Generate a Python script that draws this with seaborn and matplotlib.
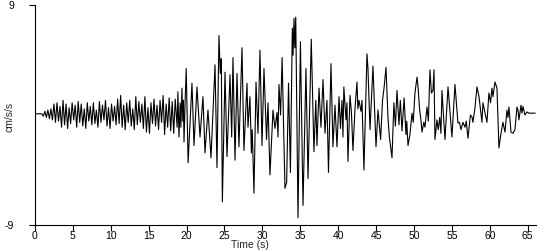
import matplotlib
matplotlib.use("Agg")
import matplotlib.pyplot as plt
import seaborn as sns
import pandas as pd

# Time (s) of each turning point of the trace
time_s = [
    0.0, 0.9, 1.1, 1.3, 1.5, 1.7, 1.9, 2.1, 2.3, 2.5, 2.7, 2.9, 3.1, 3.3, 3.5, 3.7, 3.9,
    4.1, 4.3, 4.5, 4.7, 4.9, 5.1, 5.3, 5.5, 5.7, 5.9, 6.1, 6.3, 6.5, 6.7, 6.9, 7.1, 7.3,
    7.5, 7.7, 7.9, 8.1, 8.3, 8.5, 8.7, 8.9, 9.1, 9.3, 9.5, 9.7, 9.9, 10.1, 10.3, 10.5,
    10.7, 10.9, 11.1, 11.3, 11.5, 11.7, 11.9, 12.1, 12.3, 12.5, 12.7, 12.9, 13.1, 13.3,
    13.5, 13.7, 13.9, 14.1, 14.3, 14.5, 14.7, 14.9, 15.1, 15.3, 15.5, 15.7, 15.9, 16.1,
    16.3, 16.5, 16.7, 16.9, 17.1, 17.3, 17.5, 17.7, 17.9, 18.1, 18.3, 18.5, 18.75, 18.85,
    19.0, 19.15, 19.25, 19.39, 19.5, 19.58, 19.66, 19.8, 19.95, 20.2, 20.71, 20.98,
    21.37, 21.77, 22.16, 22.43, 22.82, 23.22, 23.75, 24.01, 24.27, 24.45, 24.58, 24.72,
    25.07, 25.33, 25.73, 25.95, 26.12, 26.39, 26.65, 26.91, 27.31, 27.57, 27.97, 28.10,
    28.36, 28.55, 28.66, 28.89, 29.16, 29.42, 29.68, 29.95, 30.21, 30.55, 30.74, 31.00,
    31.40, 31.66, 31.93, 32.06, 32.19, 32.40, 32.60, 32.98, 33.20, 33.45, 33.70, 33.95,
    34.05, 34.17, 34.28, 34.40, 34.70, 35.02, 35.36, 35.75, 36.02, 36.45, 36.80, 37.05,
    37.20, 37.47, 37.73, 38.00, 38.26, 38.52, 38.72, 39.05, 39.31, 39.58, 39.84, 40.11,
    40.30, 40.50, 40.63, 40.75, 41.03, 41.16, 41.29, 41.56, 41.75, 41.95, 42.22, 42.48,
    42.60, 42.74, 43.01, 43.14, 43.40, 43.80, 43.93, 44.20, 44.59, 44.99, 45.25, 45.60,
    45.85, 46.05, 46.31, 46.57, 46.75, 47.10, 47.35, 47.55, 47.76, 48.02, 48.20, 48.42,
    48.70, 48.94, 49.05, 49.21, 49.47, 49.74, 49.90, 50.13, 50.40, 50.55, 50.75, 50.90,
    51.06, 51.30, 51.45, 51.72, 51.90, 52.11, 52.30, 52.50, 52.64, 52.77, 53.03, 53.20,
    53.40, 53.56, 53.69, 54.09, 54.49, 55.01, 55.41, 55.80, 56.00, 56.20, 56.46, 56.73,
    56.90, 57.12, 57.45, 57.65, 57.78, 58.05, 58.31, 58.58, 58.97, 59.10, 59.37, 59.63,
    59.89, 60.10, 60.29, 60.42, 60.69, 60.95, 61.21, 61.48, 61.74, 62.01, 62.27, 62.40,
    62.53, 62.80, 63.06, 63.32, 63.59, 63.72, 63.85, 64.12, 64.25, 64.38, 64.64, 64.91,
    65.17, 66.0,
]

# Acceleration (cm/s/s) at each turning point
accel = [
    0.1, 0.1, -0.1, 0.3, -0.2, 0.4, -0.3, 0.5, -0.4, 0.9, -0.6, 1.0, -0.5, 0.7, -1.0, 1.2, -0.8,
    0.9, -1.1, 0.6, -0.7, 1.0, -0.4, 0.8, -1.0, 1.1, -0.6, 0.9, -0.9, 0.5, -1.1, 1.0, -0.5, 0.7,
    -0.8, 1.0, -0.7, 0.4, -1.0, 1.1, -0.6, 0.8, -0.4, 1.2, -0.9, 0.6, -1.1, 0.9, -0.5, 0.7,
    -0.8, 1.3, -0.7, 1.6, -1.0, 0.8, -1.2, 1.0, -0.6, 1.2, -0.9, 0.5, -1.2, 1.5,
    -0.8, 1.1, -0.6, 0.9, -1.1, 1.5, -1.4, 0.6, -1.5, 1.0, -0.7, 1.3, -0.9, 0.8,
    -1.2, 1.2, -0.6, 1.6, -1.6, 0.9, -1.0, 1.4, -1.3, 1.1, -1.5, 1.3, -1.0, 1.9,
    -1.8, 1.0, -1.0, 2.2, -0.5, 1.2, -2.2, 1.0, 3.8, -3.9, 2.6, -2.5,
    2.3, -1.8, 1.5, -3.1, 0.4, -3.5, 4.1, -4.3, 6.5, 3.4, 4.6, -7.1,
    3.5, -3.4, 3.3, -1.8, 4.7, -3.7, 3.4, -2.6, 5.5, -2.9, 2.6, -1.0,
    1.5, -3.1, -1.2, -6.4, 2.7, -1.5, 5.3, -2.5, 3.8, -2.0, 1.0, -4.9,
    0.4, -1.1, 0.2, -1.8, 2.5, 0.0, 4.7, -6.0, -5.5, 2.6, -4.7, 7.1,
    4.9, 7.9, 5.5, 8.0, -8.4, 6.0, -7.4, 3.8, -5.2, 6.2, -3.0, 1.2,
    -2.5, 2.2, -1.0, 2.9, -1.5, 1.2, -4.7, 4.2, -2.6, 0.8, -2.6, 1.5,
    -1.1, 1.2, -1.8, 2.3, -0.4, 1.0, -3.8, 1.6, 0.2, -2.9, 0.5, 2.7,
    0.5, 1.2, 0.3, 1.2, -4.5, 5.0, 3.8, -1.2, 4.0, -2.6, 0.4, -2.0,
    1.2, 2.2, 3.9, -0.2, -1.8, -3.5, 1.0, -0.9, 2.0, -0.8, 1.2, -1.3,
    1.4, -1.6, -0.5, -2.5, -1.6, 0.15, -0.6, 1.8, 3.1, 2.2, 0.4, -0.3,
    -1.4, -0.6, -1.0, 0.65, -0.5, 3.7, 1.8, 2.0, 3.7, -2.0, -0.4, -1.2,
    -0.2, -1.5, 2.0, -2.0, 2.3, -1.8, 2.5, -0.65, -0.6, -1.2, -0.6, -1.0,
    -0.5, -1.9, 0.0, -0.15, -0.6, 0.6, 2.3, 1.5, -0.6, 1.0, 0.2, -0.6,
    1.8, 1.0, 2.2, 1.5, 2.7, 2.2, -2.7, -1.5, -0.6, -1.4, 0.4, -0.2,
    0.65, -1.4, -1.5, -1.2, 0.65, 0.4, -0.4, 0.8, 0.15, 0.7, 0.0, 0.25,
    0.15, 0.15,
]

x_ticks = [0, 5, 10, 15, 20, 25, 30, 35, 40, 45, 50, 55, 60, 65]
y_ticks = [-9, 9]
x_label = "Time (s)"
y_label = "cm/s/s"

sns.set_style("ticks")
plt.rcParams['font.family'] = ['Liberation Sans', 'DejaVu Sans']
plt.rcParams['axes.unicode_minus'] = False

fig = plt.figure(figsize=(5.5, 2.5), dpi=100)
ax = fig.add_axes([35 / 550, 25 / 250, 501 / 550, 220 / 250])

df = pd.DataFrame({"t": time_s, "a": accel})
sns.lineplot(data=df, x="t", y="a", ax=ax, color="black", linewidth=0.8,
             sort=False, estimator=None)

ax.set_xlim(0, 66.1)
ax.set_ylim(-9, 9)
ax.set_xticks(x_ticks)
ax.set_yticks(y_ticks)
ax.tick_params(labelsize=7.5, length=4, width=0.8, color="black", labelcolor="black")
ax.tick_params(axis="y", pad=11)
ax.tick_params(axis="x", pad=0.5)
for s in ["left", "bottom"]:
    ax.spines[s].set_linewidth(0.8)
    ax.spines[s].set_color("black")
sns.despine(ax=ax)

ax.set_xlabel(x_label, fontsize=7.5)
ax.set_ylabel(y_label, fontsize=7.5)
ax.xaxis.set_label_coords((250 - 35) / 501, -0.068)
ax.yaxis.set_label_coords(-0.04, 0.49)

fig.savefig("out.png", dpi=100)
